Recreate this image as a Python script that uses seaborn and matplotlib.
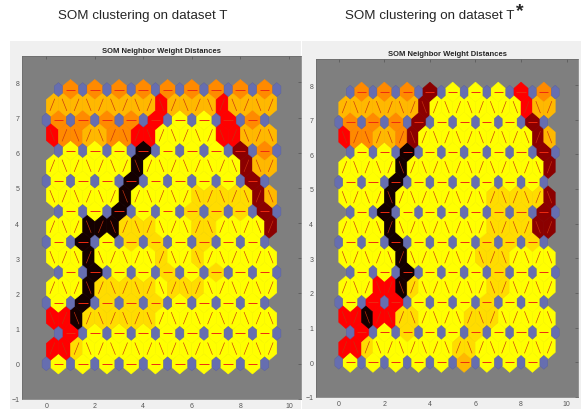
import numpy as np
import matplotlib.pyplot as plt
import seaborn as sns
from matplotlib.collections import PolyCollection, LineCollection
from matplotlib.patches import Rectangle

sns.set_style("white")
plt.rcParams['font.family'] = ['Liberation Sans', 'DejaVu Sans']

# =============== DADOS (nível de distância de cada ligação) ===============
# 0 amarelo, 1 dourado, 2 laranja claro, 3 laranja, 4 vermelho, 5 vermelho escuro, 6 preto
# linhas horizontais (9 ligações por linha de neurônios, de baixo para cima)
T_ROWS = [
    [0, 0, 0, 0, 0, 0, 0, 0, 0],
    [4, 0, 0, 0, 0, 0, 0, 0, 0],
    [0, 6, 1, 1, 1, 0, 0, 0, 0],
    [0, 6, 0, 0, 1, 0, 1, 0, 0],
    [0, 6, 0, 1, 1, 0, 1, 0, 0],
    [0, 0, 6, 0, 0, 1, 1, 1, 5],
    [0, 0, 0, 6, 0, 0, 0, 0, 5],
    [0, 0, 0, 6, 0, 0, 0, 5, 3],
    [3, 3, 3, 3, 4, 0, 0, 4, 3],
    [3, 3, 3, 3, 3, 3, 3, 3, 3],
]
# faixas diagonais (19 ligações entre duas linhas, da esquerda para a direita)
T_BANDS = [
    [4, 4, 1, 0, 0, 0, 0, 0, 0, 0, 0, 0, 0, 0, 0, 0, 0, 0, 0],
    [4, 4, 6, 1, 1, 1, 1, 1, 1, 0, 0, 0, 0, 0, 0, 0, 0, 0, 0],
    [0, 0, 0, 6, 1, 1, 1, 1, 1, 0, 1, 1, 1, 0, 0, 0, 0, 0, 0],
    [0, 0, 0, 6, 0, 0, 0, 0, 0, 1, 0, 0, 1, 0, 0, 0, 0, 0, 0],
    [0, 0, 0, 6, 6, 6, 1, 1, 1, 0, 0, 0, 1, 1, 0, 0, 0, 0, 5],
    [0, 0, 0, 0, 0, 0, 6, 0, 0, 0, 0, 0, 1, 1, 1, 1, 1, 5, 2],
    [0, 0, 0, 0, 0, 0, 0, 6, 0, 0, 0, 0, 0, 0, 0, 0, 5, 2, 2],
    [4, 3, 3, 2, 2, 3, 3, 4, 4, 0, 0, 0, 0, 0, 4, 4, 2, 2, 2],
    [2, 2, 2, 2, 2, 2, 2, 2, 2, 4, 2, 2, 2, 2, 4, 2, 2, 2, 2],
]

TS_ROWS = [
    [0, 0, 0, 0, 0, 2, 0, 0, 0],
    [4, 0, 1, 0, 0, 1, 0, 0, 0],
    [0, 4, 4, 0, 0, 0, 1, 0, 0],
    [0, 0, 6, 0, 0, 0, 1, 0, 0],
    [0, 0, 6, 0, 0, 0, 1, 1, 1],
    [0, 6, 0, 0, 0, 0, 1, 1, 5],
    [0, 0, 6, 0, 0, 0, 0, 0, 0],
    [0, 0, 6, 0, 0, 0, 0, 0, 5],
    [3, 3, 3, 5, 0, 0, 0, 0, 5],
    [3, 3, 3, 5, 0, 0, 0, 4, 3],
]
TS_BANDS = [
    [4, 4, 1, 0, 0, 0, 0, 0, 0, 0, 1, 1, 0, 0, 0, 0, 0, 0, 0],
    [4, 4, 6, 4, 4, 1, 1, 0, 0, 0, 0, 1, 1, 1, 0, 0, 0, 0, 0],
    [0, 0, 0, 4, 4, 6, 1, 0, 0, 0, 0, 0, 0, 1, 1, 0, 0, 0, 0],
    [0, 0, 0, 0, 0, 6, 0, 0, 0, 0, 0, 0, 1, 1, 1, 0, 0, 0, 0],
    [0, 0, 0, 0, 6, 0, 0, 0, 0, 0, 0, 0, 0, 1, 1, 1, 1, 5, 5],
    [0, 0, 0, 0, 6, 0, 0, 0, 0, 0, 0, 0, 0, 1, 1, 1, 1, 1, 5],
    [0, 0, 0, 0, 0, 6, 0, 0, 0, 0, 0, 0, 0, 0, 0, 0, 0, 0, 5],
    [4, 3, 3, 2, 2, 3, 5, 0, 0, 0, 0, 0, 0, 0, 0, 0, 0, 5, 2],
    [2, 2, 2, 2, 2, 2, 2, 5, 0, 0, 0, 0, 0, 0, 0, 0, 4, 2, 2],
]

TITLES = ["SOM clustering on dataset T", "SOM clustering on dataset T"]
AX_TITLE = "SOM Neighbor Weight Distances"

N = 10
ROW_H = np.sqrt(3) / 2
MAX_LEVEL = 6
cmap = sns.blend_palette(["#ffff00", "#ffdc00", "#ffb800", "#ff8c00",
                          "#ff0000", "#8c0000", "#140000"], as_cmap=True)


def pos(r, c):
    return np.array([c + 0.5 * (r % 2), r * ROW_H])


def build_edges(rows, bands):
    edges = []
    for r in range(N):
        for c in range(N - 1):
            edges.append((pos(r, c), pos(r, c + 1), rows[r][c]))
    for r in range(N - 1):
        pairs = []
        for c in range(N):
            for c2 in range(N):
                a, b = pos(r, c), pos(r + 1, c2)
                if abs(abs(b[0] - a[0]) - 0.5) < 1e-9:
                    pairs.append((a, b))
        pairs.sort(key=lambda p: p[0][0] + p[1][0])
        for (a, b), lev in zip(pairs, bands[r]):
            edges.append((a, b, lev))
    return edges


def draw_som(ax, rows, bands):
    edges = build_edges(rows, bands)
    polys, colors, seg_h, seg_d = [], [], [], []
    w = 1 / (2 * np.sqrt(3))
    for a, b, lev in edges:
        m = (a + b) / 2
        d = b - a
        n = np.array([-d[1], d[0]]) / np.hypot(*d)
        polys.append([a, m + w * n, b, m - w * n])
        colors.append(cmap(lev / MAX_LEVEL))
        seg = [a + 0.3 * d, a + 0.7 * d]
        (seg_h if abs(d[1]) < 1e-9 else seg_d).append(seg)
    ax.add_collection(PolyCollection(polys, facecolors=colors, edgecolors=colors, linewidths=0.4))
    ax.add_collection(LineCollection(seg_h, colors="#ee2a10", linewidths=0.7))
    ax.add_collection(LineCollection(seg_d, colors="#c8320f", linewidths=0.45))
    ang = np.deg2rad(90 + 60 * np.arange(6))
    hexa = np.c_[np.cos(ang), np.sin(ang)] * 0.2
    neurons = [pos(r, c) + hexa for r in range(N) for c in range(N)]
    ax.add_collection(PolyCollection(neurons, facecolors="#666eb0", edgecolors="#5a619c", linewidths=0.3))
    ax.set_xlim(-1, 10.5)
    ax.set_ylim(-1, 8.75)
    ax.set_facecolor("#7f7f7f")
    ax.set_xticks(range(0, 11, 2))
    ax.set_yticks(range(-1, 9))
    ax.tick_params(direction="in", length=2, width=0.5, labelsize=5, colors="#555555",
                   top=True, right=True, pad=2)
    for s in ax.spines.values():
        s.set_color("#6a6a6a")
        s.set_linewidth(0.5)
    ax.set_title(AX_TITLE, fontsize=5.5, fontweight="bold", pad=3,
                 family=["Liberation Sans Narrow", "Liberation Sans", "DejaVu Sans"])


fig = plt.figure(figsize=(5.81, 4.10), dpi=100)
W, H = 581, 410
fig.patches.append(Rectangle((10 / W, 0), 291 / W, 368 / H, transform=fig.transFigure,
                             facecolor="#f0f0f0", edgecolor="none", zorder=-10))
fig.patches.append(Rectangle((302 / W, 0), 279 / W, 368 / H, transform=fig.transFigure,
                             facecolor="#f0f0f0", edgecolor="none", zorder=-10))

ax1 = fig.add_axes([22 / W, 10 / H, 279 / W, 343 / H])
ax2 = fig.add_axes([316 / W, 12 / H, 262 / W, 338 / H])
draw_som(ax1, T_ROWS, T_BANDS)
draw_som(ax2, TS_ROWS, TS_BANDS)

fig.text(58 / W, 1 - 15.5 / H, TITLES[0], fontsize=9.6, ha="left", va="center")
t2 = fig.text(345 / W, 1 - 15.5 / H, TITLES[1], fontsize=9.6, ha="left", va="center")
fig.canvas.draw()
bb = t2.get_window_extent()
fig.text(bb.x1 / W + 1 / W, 1 - 12 / H, "*", fontsize=14, fontweight="bold", ha="left", va="center")

fig.savefig("out.png", dpi=100)
